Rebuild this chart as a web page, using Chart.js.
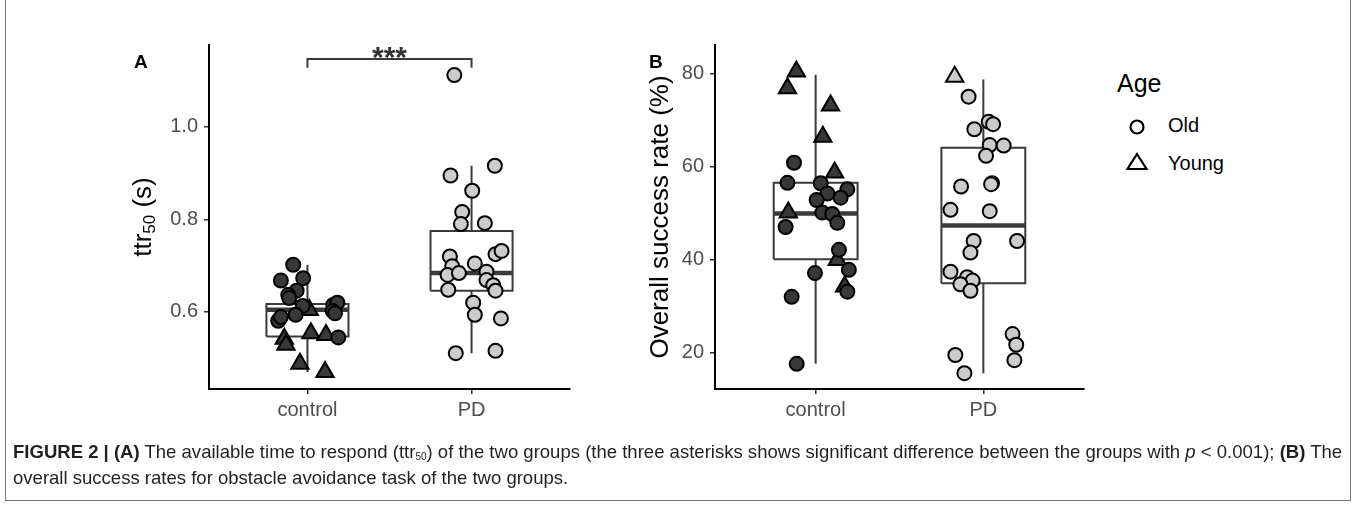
<!DOCTYPE html>
<html><head><meta charset="utf-8">
<script src="https://cdn.jsdelivr.net/npm/chart.js@4.4.0/dist/chart.umd.min.js"></script>
<style>
html,body{margin:0;padding:0;background:#fff;}
body{width:1357px;height:508px;position:relative;overflow:hidden;font-family:"Liberation Sans",Arial,sans-serif;}
canvas{position:absolute;}
.abs{position:absolute;white-space:nowrap;}
.panel{font-weight:bold;font-size:19px;color:#000;}
.ytitle{font-size:26px;color:#000;transform:translate(-50%,-50%) rotate(-90deg);}
.ytitle sub{font-size:17px;vertical-align:-4px;}
#frame{position:absolute;left:5px;top:-2px;width:1346px;height:503px;border:1px solid #777;box-sizing:border-box;}
#cap{position:absolute;left:13px;top:439px;font-size:15px;color:#231f20;line-height:26px;white-space:nowrap;}
#cap sub{font-size:10px;vertical-align:-2px;line-height:0;}
</style></head>
<body>
<div id="frame"></div>
<canvas id="cA" width="620" height="440" style="left:0;top:0"></canvas>
<canvas id="cB" width="480" height="440" style="left:620px;top:0"></canvas>
<div class="abs panel" style="left:134px;top:51px">A</div>
<div class="abs panel" style="left:649px;top:51px">B</div>
<div class="abs ytitle" style="left:143px;top:217px">ttr<sub>50</sub> (s)</div>
<div class="abs ytitle" style="left:659px;top:217px">Overall success rate (%)</div>
<div class="abs" style="left:1117px;top:69px;font-size:25px;color:#000">Age</div>
<svg class="abs" style="left:1120px;top:110px" width="40" height="70">
  <circle cx="17" cy="17" r="6.5" fill="none" stroke="#000" stroke-width="2.2"/>
  <polygon points="17,44 26.5,59 7.5,59" fill="none" stroke="#000" stroke-width="2.2" stroke-linejoin="miter"/>
</svg>
<div class="abs" style="left:1168px;top:114px;font-size:20px;color:#000">Old</div>
<div class="abs" style="left:1168px;top:152px;font-size:20px;color:#000">Young</div>
<div id="cap"><div id="l1"><b>FIGURE 2 | (A)</b> The available time to respond (ttr<sub>50</sub>) of the two groups (the three asterisks shows significant difference between the groups with <i>p</i> &lt; 0.001); <b>(B)</b> The</div><div id="l2">overall success rates for obstacle avoidance task of the two groups.</div></div>
<script>
// ---------- data ----------
const groups = ['control', 'PD'];

// Panel A: ttr50 (s)
const aTicks = [0.6, 0.8, 1.0];
const aCtrlOldY   = [0.702, 0.668, 0.673, 0.646, 0.637, 0.630, 0.613, 0.594, 0.581, 0.589, 0.615, 0.620, 0.602, 0.597, 0.545];
const aCtrlOldJit = [-0.087, -0.162, -0.026, -0.066, -0.117, -0.111, -0.029, -0.072, -0.178, -0.162, 0.157, 0.182, 0.154, 0.168, 0.188];
const aCtrlYoungY   = [0.604, 0.542, 0.529, 0.488, 0.470, 0.554, 0.550];
const aCtrlYoungJit = [0.011, -0.141, -0.131, -0.046, 0.107, 0.021, 0.113];
const aPdOldY   = [1.112, 0.916, 0.895, 0.862, 0.816, 0.790, 0.792, 0.725, 0.732, 0.720, 0.699, 0.680, 0.684, 0.705, 0.687, 0.669, 0.658, 0.648, 0.646, 0.620, 0.594, 0.586, 0.511, 0.516];
const aPdOldJit = [-0.105, 0.142, -0.128, 0.004, -0.057, -0.065, 0.081, 0.146, 0.183, -0.132, -0.118, -0.146, -0.077, 0.020, 0.091, 0.091, 0.132, -0.142, 0.146, 0.010, 0.020, 0.179, -0.096, 0.146];
// box stats: [lower whisker, Q1, median, Q3, upper whisker]
const aCtrlBox = [0.470, 0.547, 0.605, 0.617, 0.702];
const aPdBox   = [0.511, 0.646, 0.684, 0.775, 0.916];
const aSigTip = 1.128, aSigBar = 1.147, aSigLabel = '***';

// Panel B: overall success rate (%)
const bTicks = [20, 40, 60, 80];
const bCtrlOldY   = [60.8, 56.5, 56.4, 55.1, 54.2, 53.3, 52.8, 50.1, 49.8, 47.9, 47.0, 42.1, 37.8, 37.1, 33.1, 32.0, 17.6];
const bCtrlOldJit = [-0.129, -0.168, 0.030, 0.189, 0.070, 0.149, 0.006, 0.040, 0.099, 0.129, -0.179, 0.139, 0.198, -0.004, 0.189, -0.143, -0.113];
const bCtrlYoungY   = [80.4, 76.8, 73.1, 66.4, 58.7, 50.1, 39.9, 34.2];
const bCtrlYoungJit = [-0.115, -0.168, 0.089, 0.043, 0.113, -0.163, 0.129, 0.173];
const bPdOldY   = [75.0, 69.6, 69.1, 68.0, 64.6, 64.5, 62.3, 55.7, 56.4, 56.2, 50.7, 50.4, 44.0, 41.5, 44.0, 37.4, 36.2, 35.5, 34.7, 33.3, 24.0, 21.7, 18.4, 19.5, 15.6];
const bPdOldJit = [-0.088, 0.032, 0.058, -0.054, 0.038, 0.121, 0.016, -0.133, 0.052, 0.046, -0.196, 0.038, -0.058, -0.077, 0.201, -0.196, -0.097, -0.064, -0.137, -0.077, 0.174, 0.196, 0.185, -0.167, -0.113];
const bPdYoungY   = [79.3];
const bPdYoungJit = [-0.171];
const bCtrlBox = [17.6, 40.1, 49.9, 56.5, 79.7];
const bPdBox   = [15.6, 34.9, 47.3, 64.0, 78.7];

// ---------- styling ----------
const FONT = '"Liberation Sans", Arial, sans-serif';
const CTRL_FILL = '#383838', PD_FILL = '#cccccc';
const BOX_COLOR = '#3a3a3a';

function pts(ys, jits, center) { return ys.map((y, i) => ({ x: center + jits[i], y })); }
function pointSet(ys, jits, center, fill, style) {
  return {
    data: pts(ys, jits, center), showLine: false, order: style === 'triangle' ? 1 : 0,
    pointStyle: style, pointRadius: style === 'triangle' ? 10 : 7,
    pointBackgroundColor: fill, pointBorderColor: '#000', pointBorderWidth: 2
  };
}
function lineSet(data, width) {
  return { data, showLine: true, pointRadius: 0, borderColor: BOX_COLOR, borderWidth: width, fill: false, order: 10, borderJoinStyle: 'miter' };
}
function boxSets(s, c) {
  const hw = 0.25;
  const [lo, q1, med, q3, hi] = s;
  return [
    lineSet([{x:c-hw,y:q1},{x:c+hw,y:q1},{x:c+hw,y:q3},{x:c-hw,y:q3},{x:c-hw,y:q1}], 2),
    lineSet([{x:c-hw,y:med},{x:c+hw,y:med}], 4.5),
    lineSet([{x:c,y:q3},{x:c,y:hi}], 2),
    lineSet([{x:c,y:q1},{x:c,y:lo}], 2)
  ];
}
function scales(ymin, ymax, yTicks, yWidth, xHeight, yFmt) {
  return {
    x: {
      type: 'linear', min: 0.4, max: 2.6,
      afterBuildTicks: s => { s.ticks = groups.map((g, i) => ({ value: i + 1 })); },
      afterFit: s => { s.height = xHeight; },
      grid: { display: true, drawOnChartArea: false, drawTicks: true, tickLength: 5, color: '#333', lineWidth: 1.5 },
      border: { display: true, color: '#000', width: 2 },
      ticks: { font: { family: FONT, size: 20 }, color: '#4d4d4d', padding: 4, callback: v => groups[Math.round(v) - 1], maxRotation: 0, autoSkip: false }
    },
    y: {
      type: 'linear', min: ymin, max: ymax,
      afterBuildTicks: s => { s.ticks = yTicks.map(v => ({ value: v })); },
      afterFit: s => { s.width = yWidth; },
      grid: { display: true, drawOnChartArea: false, drawTicks: true, tickLength: 5, color: '#333', lineWidth: 1.5 },
      border: { display: true, color: '#000', width: 2 },
      ticks: { font: { family: FONT, size: 20 }, color: '#4d4d4d', padding: 6, callback: yFmt, autoSkip: false }
    }
  };
}
const common = { responsive: false, animation: false, devicePixelRatio: 1, events: [],
  plugins: { legend: { display: false }, tooltip: { enabled: false } } };

const sigPlugin = {
  id: 'sig',
  afterDatasetsDraw(chart) {
    const { ctx, scales: { x, y } } = chart;
    ctx.save();
    ctx.fillStyle = '#333';
    ctx.font = 'bold 30px ' + FONT;
    ctx.textAlign = 'center';
    ctx.textBaseline = 'alphabetic';
    ctx.fillText(aSigLabel, x.getPixelForValue(1.5), y.getPixelForValue(aSigBar) + 8);
    ctx.restore();
  }
};

new Chart(document.getElementById('cA'), {
  type: 'scatter',
  data: { datasets: [
    pointSet(aCtrlOldY, aCtrlOldJit, 1, CTRL_FILL, 'circle'),
    pointSet(aCtrlYoungY, aCtrlYoungJit, 1, CTRL_FILL, 'triangle'),
    pointSet(aPdOldY, aPdOldJit, 2, PD_FILL, 'circle'),
    ...boxSets(aCtrlBox, 1), ...boxSets(aPdBox, 2),
    lineSet([{x:1,y:aSigTip},{x:1,y:aSigBar},{x:2,y:aSigBar},{x:2,y:aSigTip}], 2)
  ] },
  options: { ...common, layout: { padding: { left: 0, top: 45, right: 50, bottom: 0 } },
    scales: scales(0.4335, 1.177, aTicks, 209, 51, v => v.toFixed(1)) },
  plugins: [sigPlugin]
});

new Chart(document.getElementById('cB'), {
  type: 'scatter',
  data: { datasets: [
    pointSet(bCtrlOldY, bCtrlOldJit, 1, CTRL_FILL, 'circle'),
    pointSet(bCtrlYoungY, bCtrlYoungJit, 1, CTRL_FILL, 'triangle'),
    pointSet(bPdOldY, bPdOldJit, 2, PD_FILL, 'circle'),
    pointSet(bPdYoungY, bPdYoungJit, 2, PD_FILL, 'triangle'),
    ...boxSets(bCtrlBox, 1), ...boxSets(bPdBox, 2)
  ] },
  options: { ...common, layout: { padding: { left: 0, top: 45, right: 16, bottom: 0 } },
    scales: scales(12.2, 86.1, bTicks, 95, 51, v => String(v)) }
});

// fit caption line width to the reference (~1332px)
(function () {
  const l1 = document.getElementById('l1');
  const w = l1.getBoundingClientRect().width;
  const target = 1332;
  document.getElementById('cap').style.fontSize = (15 * target / w).toFixed(2) + 'px';
})();
</script>
</body></html>
